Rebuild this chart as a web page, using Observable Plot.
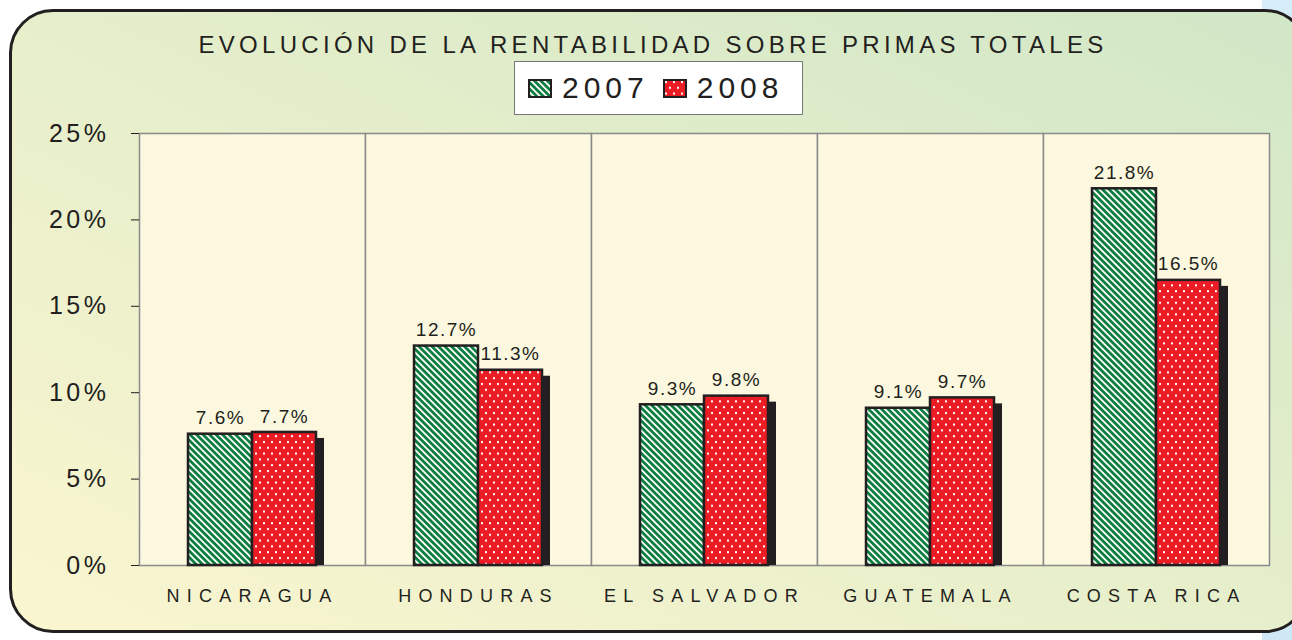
<!DOCTYPE html>
<html>
<head>
<meta charset="utf-8">
<script src="https://cdn.jsdelivr.net/npm/d3@7"></script>
<script src="https://cdn.jsdelivr.net/npm/@observablehq/plot@0.6"></script>
<style>
  html, body { margin: 0; padding: 0; width: 1292px; height: 640px; overflow: hidden; background: #fff; font-family: "Liberation Sans", Arial, sans-serif; }
  #bluebg { position: absolute; left: 1262px; top: 0; width: 40px; height: 640px; background: linear-gradient(to bottom, #d6edf9, #cfe8f6); z-index: 0; }
  #panel { position: absolute; left: 9px; top: 9px; width: 1300px; height: 624px; box-sizing: border-box; border: 3px solid #231f20; border-radius: 44px; background: linear-gradient(to top right, #faf6d0 0%, #e8efcb 45%, #d1e7c7 100%); z-index: 1; }
  #content { position: absolute; left: 0; top: 0; width: 1292px; height: 640px; z-index: 2; }
  #title { margin: 0; padding-top: 30px; height: 30px; line-height: 30px; text-align: center; font-size: 24px; letter-spacing: 4.3px; color: #231f20; padding-left: 14px; }
  #legend { position: relative; margin: 1px 0 0 514px; width: 289px; height: 54px; box-sizing: border-box; border: 1.5px solid #777; background: #fff; display: flex; align-items: center; padding-left: 13px; }
  .item { display: flex; align-items: center; margin-right: 14px; }
  .item svg { display: block; margin-right: 10px; }
  .item span { font-size: 30px; letter-spacing: 5px; color: #231f20; line-height: 30px; }
  #chart { position: absolute; left: 0; top: 120px; }
  g[aria-label="y-axis tick label"] text { letter-spacing: 3.5px; }
  g[aria-label="fx-axis tick label"] text { letter-spacing: 7.2px; }
  g[aria-label="text"] text { letter-spacing: 1.5px; }
</style>
</head>
<body>
<svg width="0" height="0" style="position:absolute">
  <defs>
    <pattern id="stripes" patternUnits="userSpaceOnUse" width="4.6" height="4.6" patternTransform="rotate(45)">
      <rect x="0" y="0" width="4.6" height="4.6" fill="#ffffff"></rect>
      <rect x="0" y="0" width="4.6" height="2.8" fill="#0b7d3e"></rect>
    </pattern>
    <pattern id="dots" patternUnits="userSpaceOnUse" width="8" height="11.6">
      <rect x="0" y="0" width="8" height="11.6" fill="#ec1c24"></rect>
      <rect x="2" y="2" width="2" height="2" fill="#ffffff"></rect>
      <rect x="6" y="7.8" width="2" height="2" fill="#ffffff"></rect>
    </pattern>
  </defs>
</svg>
<div id="bluebg"></div>
<div id="panel"></div>
<div id="content">
  <div id="title">EVOLUCIÓN DE LA RENTABILIDAD SOBRE PRIMAS TOTALES</div>
  <div id="legend">
    <div class="item"><svg width="24" height="19"><rect x="1" y="1" width="22" height="17" fill="url(#stripes)" stroke="#231f20" stroke-width="2"></rect></svg><span>2007</span></div>
    <div class="item"><svg width="24" height="19"><rect x="1" y="1" width="22" height="17" fill="url(#dots)" stroke="#231f20" stroke-width="2"></rect></svg><span>2008</span></div>
  </div>
  <div id="chart"></div>
</div>
<script>
const countries = ["NICARAGUA", "HONDURAS", "EL SALVADOR", "GUATEMALA", "COSTA RICA"];
const years = ["2007", "2008"];
const values2007 = [7.6, 12.7, 9.3, 9.1, 21.8];
const values2008 = [7.7, 11.3, 9.8, 9.7, 16.5];
const yTicks = [0, 5, 10, 15, 20, 25];

const data = [];
countries.forEach((c, i) => {
  data.push({country: c, year: years[0], value: values2007[i]});
  data.push({country: c, year: years[1], value: values2008[i]});
});
const d2007 = data.filter(d => d.year === "2007");
const d2008 = data.filter(d => d.year === "2008");

const chart = Plot.plot({
  width: 1292,
  height: 520,
  marginLeft: 138,
  marginRight: 22,
  marginTop: 13,
  marginBottom: 75,
  style: {background: "transparent", fontFamily: "'Liberation Sans', Arial, sans-serif", color: "#231f20", overflow: "visible"},
  fx: {domain: countries, paddingInner: 0, paddingOuter: 0, label: null},
  x: {domain: years, paddingInner: 0, paddingOuter: 0.76, axis: null},
  y: {domain: [0, 25], label: null},
  marks: [
    Plot.frame({fill: "#fcf8df", stroke: "#8a8a8a", strokeWidth: 1.5}),
    Plot.axisY({ticks: yTicks, tickFormat: d => d + "%", tickSize: 8, tickPadding: 22, fontSize: 25, label: null, stroke: "#231f20"}),
    Plot.axisFx({anchor: "bottom", tickSize: 0, tickPadding: 24, fontSize: 18, label: null}),
    Plot.barY(d2008, {fx: "country", x: "year", y: "value", fill: "#231f20", dx: 8, insetTop: 6}),
    Plot.barY(d2007, {fx: "country", x: "year", y: "value", fill: "url(#stripes)", stroke: "#231f20", strokeWidth: 2.5}),
    Plot.barY(d2008, {fx: "country", x: "year", y: "value", fill: "url(#dots)", stroke: "#231f20", strokeWidth: 2.5}),
    Plot.text(data, {fx: "country", x: "year", y: "value", text: d => d.value.toFixed(1) + "%", dy: -16, fontSize: 19, fill: "#231f20"})
  ]
});
document.getElementById("chart").appendChild(chart);
</script>
</body>
</html>
